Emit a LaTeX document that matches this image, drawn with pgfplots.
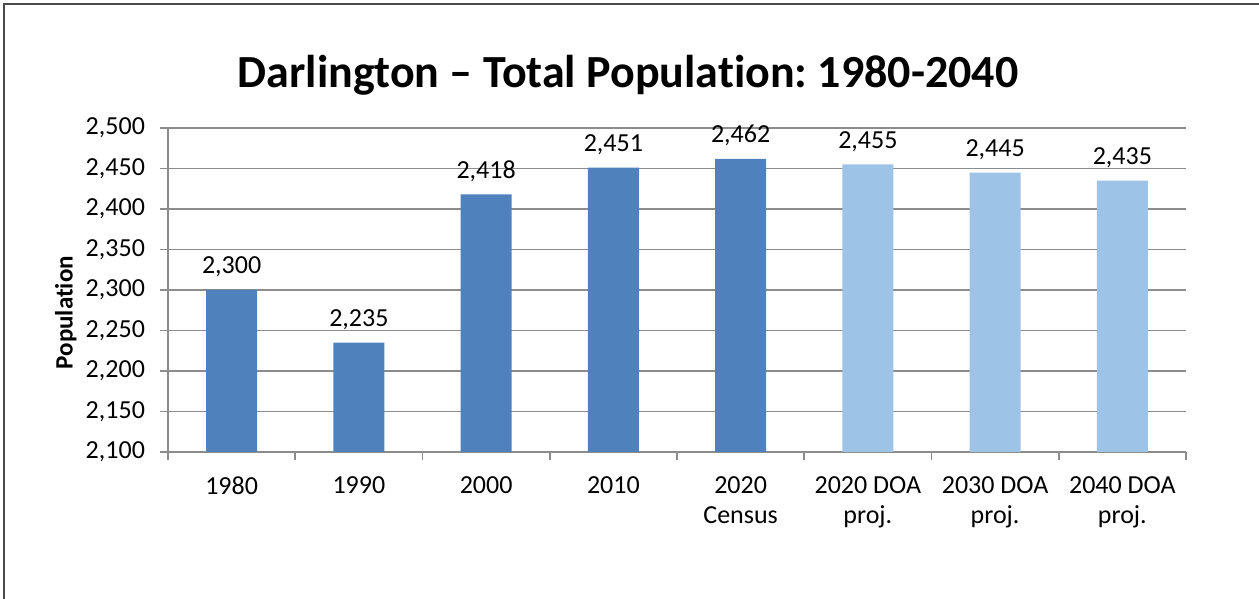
\documentclass[border=0pt]{standalone}
\usepackage{fontspec}
\setmainfont{Carlito}[RawFeature=-liga]
\usepackage{pgfplots}
\pgfplotsset{compat=1.18}
\definecolor{darkbar}{HTML}{4F81BD}
\definecolor{lightbar}{HTML}{9DC3E6}
\definecolor{gridgray}{HTML}{8C8C8C}
\frenchspacing
\begin{document}
\begin{tikzpicture}[x=1pt,y=1pt]
\path[use as bounding box] (0,0) rectangle (629.5,299.5);
\draw[color=black!70, line width=0.7pt] (2,0) -- (2,297.5) -- (629.5,297.5);
\node[anchor=base, font=\bfseries\fontsize{23}{27}\selectfont] at (314,255.5) {Darlington – Total Population: 1980-2040};
\begin{axis}[
  at={(84pt,73.5pt)}, anchor=south west,
  scale only axis, width=509pt, height=162pt,
  xmin=-0.5, xmax=7.5, ymin=2100, ymax=2500,
  axis x line*=bottom, axis y line*=left,
  axis line style={gridgray, line width=0.9pt},
  tick style={gridgray, line width=0.9pt},
  tick align=outside,
  major tick length=4pt, minor tick length=4pt,
  xtick={0,...,7},
  xticklabels={1980,1990,2000,2010,{2020\\Census},{2020 DOA\\proj.},{2030 DOA\\proj.},{2040 DOA\\proj.}},
  major x tick style={draw=none},
  minor xtick={-0.5,0.5,...,7.5},
  ytick={2100,2150,...,2500},
  scaled y ticks=false,
  ymajorgrids, grid style={gridgray, line width=0.9pt},
  x tick label style={align=center, font=\fontsize{13}{15}\selectfont, yshift=-5pt},
  y tick label style={font=\fontsize{13}{15}\selectfont, xshift=-4pt},
  /pgf/number format/1000 sep={,},
  /pgf/number format/assume math mode=true,
  ylabel={Population},
  ylabel style={font=\bfseries\fontsize{12.5}{14}\selectfont, at={(ticklabel cs:0.43)}, anchor=south, inner sep=1pt},
  nodes near coords,
  every node near coord/.append style={font=\fontsize{13}{15}\selectfont, yshift=3pt, text=black},
  clip=false,
]
\addplot[ybar, bar width=25.5pt, bar shift=0pt, fill=darkbar, draw=none]
  coordinates {(0,2300) (1,2235) (2,2418) (3,2451) (4,2462)};
\addplot[ybar, bar width=25.5pt, bar shift=0pt, fill=lightbar, draw=none]
  coordinates {(5,2455) (6,2445) (7,2435)};
\end{axis}
\end{tikzpicture}
\end{document}
